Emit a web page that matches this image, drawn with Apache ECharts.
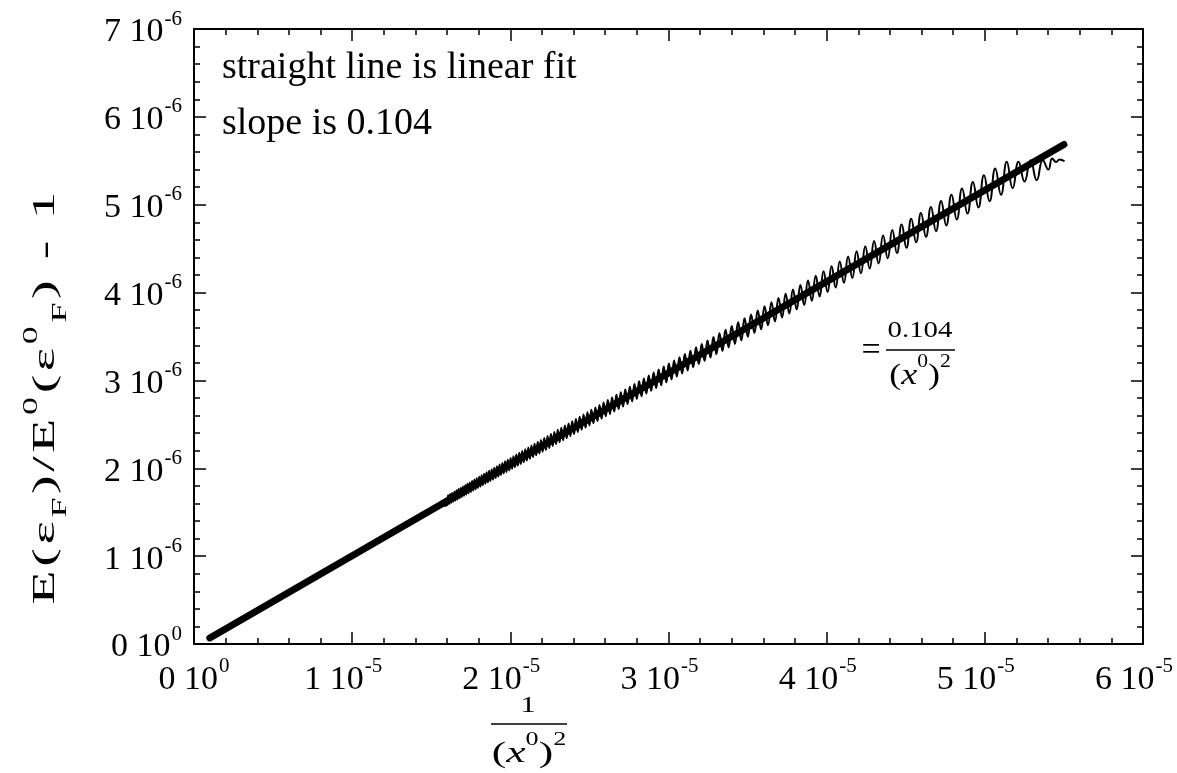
<!DOCTYPE html>
<html>
<head>
<meta charset="utf-8">
<title>Energy shift versus 1/(x0)^2</title>
<script src="https://cdn.jsdelivr.net/npm/echarts@6/dist/echarts.min.js"></script>
<style>
  html, body { margin: 0; padding: 0; background: #fff; }
  #chart { width: 1177px; height: 773px; }
</style>
</head>
<body>
<div id="chart"></div>
<script>
// Units used by the stored values: u in 1e-5, energy shift in 1e-6
const X_UNIT = 1e-5;
const Y_UNIT = 1e-6;

// Tick labels (mantissa and power of ten)
const xTickMant = ['0', '1', '2', '3', '4', '5', '6'];
const xTickExp  = ['0', '-5', '-5', '-5', '-5', '-5', '-5'];
const yTickMant = ['0', '1', '2', '3', '4', '5', '6', '7'];
const yTickExp  = ['0', '-6', '-6', '-6', '-6', '-6', '-6', '-6'];

// Linear fit (slope 0.104)
const fitU = [0.10, 5.50];
const fitY = [0.069, 5.685];

// Computed curve, low-u part (oscillation hidden under the fit line)
const leadU = [0.10, 1.55, 1.6000];
const leadY = [0.069, 1.577, 1.579];

// Computed curve: successive extremes of the oscillation along 1/(x0)^2
const curveU = [
  1.55,
  1.6000, 1.6064, 1.6129, 1.6194, 1.6259, 1.6325, 1.6391, 1.6458, 1.6525, 1.6592,
  1.6660, 1.6728, 1.6797, 1.6866, 1.6935, 1.7005, 1.7075, 1.7146, 1.7217, 1.7289,
  1.7361, 1.7434, 1.7507, 1.7580, 1.7654, 1.7729, 1.7804, 1.7879, 1.7955, 1.8031,
  1.8108, 1.8185, 1.8263, 1.8341, 1.8420, 1.8499, 1.8579, 1.8659, 1.8740, 1.8822,
  1.8904, 1.8986, 1.9069, 1.9153, 1.9237, 1.9321, 1.9407, 1.9492, 1.9579, 1.9666,
  1.9753, 1.9841, 1.9930, 2.0019, 2.0109, 2.0200, 2.0291, 2.0382, 2.0475, 2.0568,
  2.0661, 2.0755, 2.0850, 2.0946, 2.1042, 2.1139, 2.1236, 2.1335, 2.1433, 2.1533,
  2.1633, 2.1734, 2.1836, 2.1938, 2.2042, 2.2145, 2.2250, 2.2355, 2.2461, 2.2568,
  2.2676, 2.2784, 2.2893, 2.3003, 2.3114, 2.3225, 2.3338, 2.3451, 2.3565, 2.3680,
  2.3795, 2.3912, 2.4029, 2.4147, 2.4266, 2.4386, 2.4507, 2.4629, 2.4752, 2.4876,
  2.5000, 2.5125, 2.5252, 2.5379, 2.5508, 2.5637, 2.5767, 2.5899, 2.6031, 2.6164,
  2.6299, 2.6434, 2.6570, 2.6708, 2.6846, 2.6986, 2.7127, 2.7268, 2.7411, 2.7555,
  2.7701, 2.7847, 2.7995, 2.8143, 2.8293, 2.8444, 2.8597, 2.8750, 2.8905, 2.9061,
  2.9218, 2.9377, 2.9537, 2.9698, 2.9861, 3.0024, 3.0190, 3.0356, 3.0524, 3.0693,
  3.0864, 3.1036, 3.1210, 3.1385, 3.1562, 3.1740, 3.1919, 3.2101, 3.2283, 3.2467,
  3.2653, 3.2841, 3.3029, 3.3220, 3.3412, 3.3606, 3.3802, 3.3999, 3.4199, 3.4400,
  3.4602, 3.4807, 3.5013, 3.5221, 3.5431, 3.5643, 3.5856, 3.6072, 3.6290, 3.6509,
  3.6731, 3.6955, 3.7180, 3.7408, 3.7638, 3.7870, 3.8104, 3.8340, 3.8579, 3.8820,
  3.9063, 3.9308, 3.9555, 3.9805, 4.0058, 4.0312, 4.0570, 4.0829, 4.1091, 4.1356,
  4.1623, 4.1893, 4.2166, 4.2441, 4.2719, 4.3000, 4.3283, 4.3569, 4.3858, 4.4150,
  4.4444, 4.4742, 4.5043, 4.5347, 4.5654, 4.5964, 4.6277, 4.6594, 4.6913, 4.7236,
  4.7562, 4.7892, 4.8225, 4.8562, 4.8902, 4.9246, 4.9593, 4.9944, 5.0299, 5.0658,
  5.1020, 5.1387, 5.1757, 5.2132, 5.2510, 5.2893, 5.3279, 5.3670, 5.4020,
  5.426, 5.451, 5.472, 5.504
];
const curveY = [
  1.577,
  1.579, 1.692, 1.592, 1.706, 1.606, 1.720, 1.619, 1.734, 1.632, 1.749,
  1.646, 1.763, 1.660, 1.778, 1.674, 1.793, 1.688, 1.808, 1.702, 1.824,
  1.717, 1.839, 1.731, 1.855, 1.746, 1.871, 1.761, 1.887, 1.777, 1.903,
  1.792, 1.920, 1.808, 1.937, 1.824, 1.954, 1.840, 1.971, 1.856, 1.988,
  1.872, 2.006, 1.889, 2.024, 1.906, 2.042, 1.923, 2.060, 1.941, 2.079,
  1.958, 2.098, 1.976, 2.117, 1.994, 2.137, 2.012, 2.156, 2.031, 2.176,
  2.050, 2.196, 2.069, 2.217, 2.088, 2.237, 2.108, 2.259, 2.128, 2.280,
  2.148, 2.301, 2.168, 2.323, 2.189, 2.346, 2.210, 2.368, 2.231, 2.391,
  2.253, 2.414, 2.275, 2.438, 2.297, 2.462, 2.320, 2.486, 2.343, 2.511,
  2.366, 2.536, 2.390, 2.561, 2.413, 2.587, 2.438, 2.613, 2.463, 2.639,
  2.488, 2.666, 2.513, 2.693, 2.539, 2.721, 2.565, 2.749, 2.592, 2.778,
  2.619, 2.807, 2.646, 2.836, 2.674, 2.866, 2.702, 2.896, 2.731, 2.927,
  2.760, 2.959, 2.790, 2.990, 2.820, 3.023, 2.850, 3.056, 2.882, 3.089,
  2.913, 3.123, 2.945, 3.158, 2.978, 3.193, 3.011, 3.228, 3.045, 3.265,
  3.079, 3.301, 3.114, 3.339, 3.150, 3.377, 3.186, 3.416, 3.222, 3.455,
  3.260, 3.495, 3.298, 3.536, 3.336, 3.578, 3.376, 3.620, 3.416, 3.663,
  3.456, 3.707, 3.498, 3.751, 3.540, 3.797, 3.583, 3.843, 3.627, 3.890,
  3.671, 3.938, 3.717, 3.986, 3.763, 4.036, 3.810, 4.087, 3.858, 4.138,
  3.907, 4.191, 3.956, 4.244, 4.007, 4.299, 4.059, 4.354, 4.111, 4.411,
  4.165, 4.469, 4.220, 4.527, 4.275, 4.588, 4.332, 4.649, 4.390, 4.711,
  4.449, 4.775, 4.510, 4.840, 4.572, 4.906, 4.634, 4.974, 4.699, 5.043,
  4.764, 5.113, 4.831, 5.185, 4.899, 5.259, 4.969, 5.334, 5.040, 5.411,
  5.113, 5.489, 5.187, 5.490, 5.263, 5.506, 5.280, 5.506, 5.400,
  5.526, 5.487, 5.514, 5.495
];

const SERIF = "'Liberation Serif', 'Times New Roman', 'DejaVu Serif', serif";

function toPairs(us, ys) {
  return us.map((u, i) => [u * X_UNIT, ys[i] * Y_UNIT]);
}

function tickIndex(v, unit) {
  return Math.round(v / unit);
}

const labelRich = {
  m: { fontFamily: SERIF, fontSize: 34, color: '#000', verticalAlign: 'bottom', padding: [7, 0, 0, 0] },
  e: { fontFamily: SERIF, fontSize: 21, color: '#000', verticalAlign: 'top', padding: [0, 0, 0, 1] },
  ex: { fontFamily: SERIF, fontSize: 21, color: '#000', verticalAlign: 'top', padding: [0, 18, 0, 1] }
};

const tickStyle = { color: '#000', width: 1.5 };

function makeX(position, showLabels) {
  return {
    type: 'value', position: position, min: 0, max: 6 * X_UNIT, interval: X_UNIT,
    axisLine: { show: true, onZero: false, lineStyle: { color: '#000', width: 2 } },
    axisTick: { show: true, inside: true, length: 12, lineStyle: tickStyle },
    minorTick: { show: true, splitNumber: 5, length: 6, lineStyle: tickStyle },
    splitLine: { show: false },
    axisLabel: {
      show: showLabels, margin: 12, rich: labelRich,
      formatter: function (v) {
        const i = tickIndex(v, X_UNIT);
        const tag = i === 0 ? 'e' : 'ex';
        return '{m|' + xTickMant[i] + ' 10}{' + tag + '|' + xTickExp[i] + '}';
      }
    }
  };
}

function makeY(position, showLabels) {
  return {
    type: 'value', position: position, min: 0, max: 7 * Y_UNIT, interval: Y_UNIT,
    axisLine: { show: true, onZero: false, lineStyle: { color: '#000', width: 2 } },
    axisTick: { show: true, inside: true, length: 12, lineStyle: tickStyle },
    minorTick: { show: true, splitNumber: 5, length: 6, lineStyle: tickStyle },
    splitLine: { show: false },
    axisLabel: {
      show: showLabels, margin: 12, rich: labelRich,
      formatter: function (v) {
        const i = tickIndex(v, Y_UNIT);
        return '{m|' + yTickMant[i] + ' 10}{e|' + yTickExp[i] + '}';
      }
    }
  };
}

const chart = echarts.init(document.getElementById('chart'), null, { renderer: 'canvas' });

const fracRich = {
  n: { fontFamily: SERIF, fontSize: 30, fontWeight: 'normal', color: '#000', verticalAlign: 'bottom', padding: [8, 0, 0, 0] },
  i: { fontFamily: SERIF, fontSize: 30, fontWeight: 'normal', fontStyle: 'italic', color: '#000', verticalAlign: 'bottom', padding: [8, 0, 0, 0] },
  s: { fontFamily: SERIF, fontSize: 18, fontWeight: 'normal', color: '#000', verticalAlign: 'top' }
};

// y-axis title pieces, each letter slightly spaced apart
const titleRich = {
  n: { fontFamily: SERIF, fontSize: 31, fontWeight: 'normal', color: '#000', padding: [9, 1, 9, 1] },
  p: { fontFamily: SERIF, fontSize: 20, fontWeight: 'normal', color: '#000', verticalAlign: 'top', padding: [0, 1, 0, 1] },
  b: { fontFamily: SERIF, fontSize: 20, fontWeight: 'normal', color: '#000', verticalAlign: 'bottom', padding: [0, 1, 0, 1] }
};
const yTitle = '{n|E}{n|(}{n|ε}{b|F}{n|)}{n|/}{n|E}{p|0}{n|(}{n|ε}{p|0}{b|F}{n|)}{n| }{n|-}{n| }{n|1}';

chart.setOption({
  animation: false,
  backgroundColor: '#fff',
  grid: { left: 194, top: 29, width: 949, height: 615, containLabel: false },
  xAxis: [makeX('bottom', true), makeX('top', false)],
  yAxis: [makeY('left', true), makeY('right', false)],
  series: [
    {
      name: 'computed (low u)', type: 'line', xAxisIndex: 0, yAxisIndex: 0,
      data: toPairs(leadU, leadY),
      showSymbol: false, smooth: false,
      lineStyle: { color: '#000', width: 2 },
      silent: true, z: 2
    },
    {
      name: 'computed', type: 'line', xAxisIndex: 0, yAxisIndex: 0,
      data: toPairs(curveU, curveY),
      showSymbol: false, smooth: 0.5,
      lineStyle: { color: '#000', width: 2 },
      silent: true, z: 2
    },
    {
      name: 'linear fit', type: 'line', xAxisIndex: 0, yAxisIndex: 0,
      data: toPairs(fitU, fitY),
      showSymbol: false,
      lineStyle: { color: '#000', width: 7, cap: 'round' },
      silent: true, z: 3
    }
  ],
  graphic: [
    {
      type: 'text', x: 222, y: 68,
      style: { text: 'straight line is linear fit', font: '38px ' + SERIF, fill: '#000', textAlign: 'left', textVerticalAlign: 'middle' }
    },
    {
      type: 'text', x: 222, y: 124,
      style: { text: 'slope is 0.104', font: '38px ' + SERIF, fill: '#000', textAlign: 'left', textVerticalAlign: 'middle' }
    },
    // fraction annotation next to the curve
    {
      type: 'text', x: 871, y: 351,
      style: { text: '=', font: '34px ' + SERIF, fill: '#000', textAlign: 'center', textVerticalAlign: 'middle' }
    },
    {
      type: 'text', x: 920, y: 331, scaleX: 1.2,
      style: { text: '0.104', font: '24px ' + SERIF, fill: '#000', textAlign: 'center', textVerticalAlign: 'middle' }
    },
    {
      type: 'line', shape: { x1: 886, y1: 350, x2: 955, y2: 350 },
      style: { stroke: '#000', lineWidth: 1.5 }
    },
    {
      type: 'text', x: 920, y: 372, scaleX: 1.2,
      style: { text: '{n|(}{i|x}{s|0}{n|)}{s|2}', rich: fracRich, fill: '#000', textAlign: 'center', textVerticalAlign: 'middle' }
    },
    // x-axis title: 1 / (x0)^2
    {
      type: 'text', x: 528, y: 706, scaleX: 1.3,
      style: { text: '1', font: '24px ' + SERIF, fill: '#000', textAlign: 'center', textVerticalAlign: 'middle' }
    },
    {
      type: 'line', shape: { x1: 491, y1: 724, x2: 567, y2: 724 },
      style: { stroke: '#000', lineWidth: 1.5 }
    },
    {
      type: 'text', x: 529, y: 750, scaleX: 1.45,
      style: { text: '{n|(}{i|x}{s|0}{n|)}{s|2}', rich: fracRich, fill: '#000', textAlign: 'center', textVerticalAlign: 'middle' }
    },
    // y-axis title
    {
      type: 'text', x: 46, y: 398, rotation: Math.PI / 2, scaleX: 1.8,
      style: { text: yTitle, rich: titleRich, fill: '#000', fontWeight: 'normal', textAlign: 'center', textVerticalAlign: 'middle' }
    }
  ]
});
</script>
</body>
</html>
